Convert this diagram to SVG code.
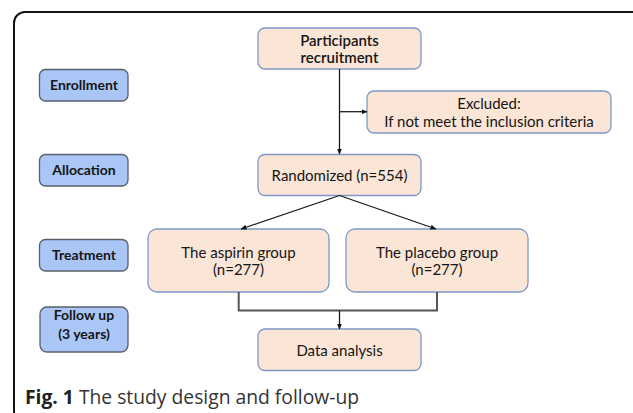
<svg xmlns="http://www.w3.org/2000/svg" width="633" height="413" viewBox="0 0 633 413">
<defs>
<marker id="ah" markerWidth="6" markerHeight="6" refX="5.5" refY="3" orient="auto" markerUnits="userSpaceOnUse">
<path d="M0,0.5 L6,3 L0,5.5 Z" fill="#111"/>
</marker>
<style>
.frame{fill:none;stroke:#111;stroke-width:2}
.box{fill:#fae5d7;stroke:#7f98c6;stroke-width:1.3}
.lab{fill:#a9c6f7;stroke:#5a5f6a;stroke-width:1.3}
.t{font-family:Lato,"Open Sans","Liberation Sans",sans-serif;font-size:15px;fill:#151515;text-anchor:middle}
.b{font-family:Lato,"Open Sans","Liberation Sans",sans-serif;font-size:14px;font-weight:bold;fill:#151515;text-anchor:middle}
.c{stroke:#1a1a1a;stroke-width:1.3;fill:none}
.c2{stroke:#555;stroke-width:2;fill:none}
.cap{font-family:"Open Sans","Liberation Sans",sans-serif;font-size:19.3px;fill:#333}
</style>
</defs>
<rect class="frame" x="14" y="12" width="640" height="410" rx="11"/>
<g id="enrollment"><rect class="lab" x="39.5" y="69.5" width="88.5" height="31.5" rx="6"/><text class="b" x="84" y="89.5">Enrollment</text></g>
<g id="allocation"><rect class="lab" x="39.5" y="154.5" width="88.5" height="31.5" rx="6"/><text class="b" x="84" y="175">Allocation</text></g>
<g id="treatment"><rect class="lab" x="39.5" y="239.5" width="88.5" height="31.5" rx="6"/><text class="b" x="84" y="260">Treatment</text></g>
<g id="followup"><rect class="lab" x="40" y="307" width="88" height="45" rx="7"/><text class="b" x="84" y="320">Follow up</text><text class="b" x="84" y="339">(3 years)</text></g>
<g id="participants"><rect class="box" x="258" y="28" width="163" height="41" rx="7"/><text class="t" x="339.5" y="45.5" font-weight="600">Participants</text><text class="t" x="339.5" y="63" font-weight="600">recruitment</text></g>
<g id="excluded"><rect class="box" x="367" y="91" width="244" height="42" rx="7"/><text class="t" x="489" y="108.5">Excluded:</text><text class="t" x="489" y="126.5">If not meet the inclusion criteria</text></g>
<g id="randomized"><rect class="box" x="258" y="154.5" width="163" height="41" rx="7"/><text class="t" x="339.5" y="181">Randomized (n=554)</text></g>
<g id="aspirin"><rect class="box" x="148" y="229" width="181" height="63" rx="9"/><text class="t" x="238.5" y="257.5">The aspirin group</text><text class="t" x="238.5" y="275">(n=277)</text></g>
<g id="placebo"><rect class="box" x="346" y="229" width="182" height="63" rx="9"/><text class="t" x="437" y="257.5">The placebo group</text><text class="t" x="437" y="275">(n=277)</text></g>
<g id="data"><rect class="box" x="258" y="329" width="163" height="41.5" rx="7"/><text class="t" x="339.5" y="356">Data analysis</text></g>
<g id="connectors">
<line class="c" x1="339.5" y1="69" x2="339.5" y2="154" marker-end="url(#ah)"/>
<line class="c" x1="339.5" y1="111.7" x2="367" y2="111.7" marker-end="url(#ah)"/>
<line class="c" x1="339.5" y1="195.5" x2="241" y2="229" marker-end="url(#ah)"/>
<line class="c" x1="339.5" y1="195.5" x2="436" y2="229" marker-end="url(#ah)"/>
<polyline class="c2" points="238.7,292 238.7,310.5 437,310.5 437,292"/>
<line class="c" x1="339.5" y1="310.5" x2="339.5" y2="329" marker-end="url(#ah)"/>
</g>
<text class="cap" x="25" y="404"><tspan font-weight="bold" fill="#222">Fig. 1</tspan> The study design and follow-up</text>
</svg>
